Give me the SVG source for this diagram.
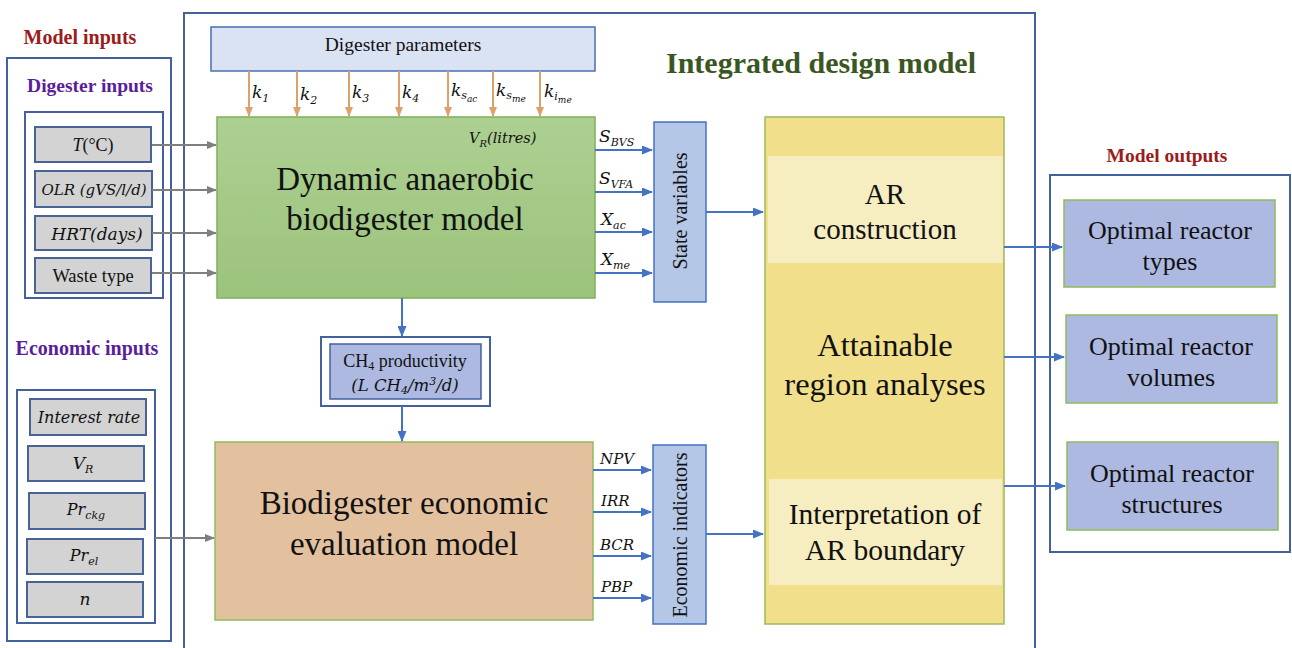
<svg xmlns="http://www.w3.org/2000/svg" width="1292" height="648" viewBox="0 0 1292 648">
<defs>
<marker id="ag" markerWidth="10" markerHeight="8" refX="9" refY="4" orient="auto" markerUnits="userSpaceOnUse"><path d="M0,0 L10,4 L0,8 z" fill="#7f7f7f"/></marker>
<marker id="ao" markerWidth="10" markerHeight="8" refX="9" refY="4" orient="auto" markerUnits="userSpaceOnUse"><path d="M0,0 L10,4 L0,8 z" fill="#e0a06a"/></marker>
<marker id="ab" markerWidth="11" markerHeight="9" refX="10" refY="4.5" orient="auto" markerUnits="userSpaceOnUse"><path d="M0,0 L11,4.5 L0,9 z" fill="#4472c4"/></marker>
<linearGradient id="gg" x1="0" y1="0" x2="0" y2="1"><stop offset="0" stop-color="#acd092"/><stop offset="1" stop-color="#9cc37c"/></linearGradient>
<style>
.frame{fill:#fff;stroke:#44619e;stroke-width:2}
.item{fill:#d3d3d3;stroke:#4a6396;stroke-width:2}
.t{font-family:"Liberation Serif","Times New Roman","DejaVu Serif",serif;fill:#111}
.m{font-family:"DejaVu Serif","Liberation Serif",serif;font-style:italic;fill:#111}
.big{font-family:"Liberation Serif","Times New Roman","DejaVu Serif",serif;fill:#111;text-anchor:middle}
.lab{font-family:"Liberation Serif","Times New Roman","DejaVu Serif",serif;font-weight:bold}
.cg{stroke:#7f7f7f;stroke-width:2;fill:none}
.co{stroke:#e0a06a;stroke-width:2;fill:none}
.cb{stroke:#4472c4;stroke-width:2;fill:none}
.blue{fill:#b4c7e7;stroke:#4472c4;stroke-width:1.5}
.out{fill:#adb9e1;stroke:#8fbc5a;stroke-width:1.5}
</style>
</defs>

<g id="integrated">
<rect x="184" y="13" width="851" height="660" fill="none" stroke="#44619e" stroke-width="2"/>
<text class="lab" x="821" y="73" font-size="30" fill="#3a5623" text-anchor="middle">Integrated design model</text>
</g>

<g id="model-inputs">
<text class="lab" x="80" y="44" font-size="20" fill="#9b1c1c" text-anchor="middle">Model inputs</text>
<rect class="frame" x="7" y="58" width="164" height="583"/>
<text class="lab" x="90" y="92" font-size="19.5" fill="#5a1e9a" text-anchor="middle">Digester inputs</text>
<text class="lab" x="87" y="355" font-size="20" fill="#5a1e9a" text-anchor="middle">Economic inputs</text>
</g>

<g id="digester-inputs">
<rect class="frame" x="25" y="112" width="138" height="186"/>
<rect class="item" x="35" y="127" width="116" height="35"/>
<text class="t" x="93" y="151" font-size="18" text-anchor="middle"><tspan font-style="italic">T</tspan>(°C)</text>
<rect class="item" x="35" y="171" width="117" height="36"/>
<text class="m" x="94" y="195" font-size="15" text-anchor="middle">OLR (gVS/l/d)</text>
<rect class="item" x="35" y="216" width="117" height="34"/>
<text class="m" x="97" y="240" font-size="17" text-anchor="middle">HRT(days)</text>
<rect class="item" x="35" y="258" width="116" height="35"/>
<text class="t" x="93" y="282" font-size="18.5" text-anchor="middle">Waste type</text>
</g>

<g id="economic-inputs">
<rect class="frame" x="17" y="390" width="138" height="233"/>
<rect class="item" x="30" y="399" width="116" height="36"/>
<text class="m" x="89" y="423" font-size="16" text-anchor="middle">Interest rate</text>
<rect class="item" x="28" y="446" width="116" height="35"/>
<text class="m" x="83" y="469" font-size="17" text-anchor="middle">V<tspan font-size="11" dy="4">R</tspan></text>
<rect class="item" x="29" y="493" width="116" height="36"/>
<text class="m" x="86" y="515" font-size="16" text-anchor="middle">Pr<tspan font-size="11" dy="4">ckg</tspan></text>
<rect class="item" x="27" y="539" width="116" height="35"/>
<text class="m" x="84" y="561" font-size="16" text-anchor="middle">Pr<tspan font-size="11" dy="4">el</tspan></text>
<rect class="item" x="27" y="582" width="116" height="35"/>
<text class="m" x="85" y="605" font-size="17" text-anchor="middle">n</text>
</g>

<g id="digester-parameters">
<rect x="211" y="27" width="384" height="44" fill="#dae3f3" stroke="#4a6fb0" stroke-width="1.5"/>
<text class="t" x="403" y="51" font-size="19.5" text-anchor="middle">Digester parameters</text>
</g>

<g id="dynamic-model">
<rect x="217" y="117" width="378" height="181" fill="url(#gg)" stroke="#7fb058" stroke-width="1.5"/>
<text class="m" x="469" y="143" font-size="14.5">V<tspan font-size="10" dy="4">R</tspan><tspan dy="-4">(litres)</tspan></text>
<text class="big" x="405" y="190" font-size="33">Dynamic anaerobic</text>
<text class="big" x="405" y="230" font-size="33">biodigester model</text>
</g>

<g id="ch4">
<rect x="321" y="337" width="169" height="69" fill="#fff" stroke="#44619e" stroke-width="2"/>
<rect x="330" y="344" width="151" height="55" fill="#adb9e1" stroke="#44619e" stroke-width="1.5"/>
<text class="t" x="405" y="367" font-size="18" text-anchor="middle">CH<tspan font-size="12" dy="3">4</tspan><tspan dy="-3"> productivity</tspan></text>
<text class="m" x="405" y="391" font-size="16.5" text-anchor="middle">(L CH<tspan font-size="11" dy="3">4</tspan><tspan dy="-3">/m</tspan><tspan font-size="11" dy="-6">3</tspan><tspan dy="6">/d)</tspan></text>
</g>

<g id="economic-model">
<rect x="215" y="442" width="378" height="178" fill="#e3c19f" stroke="#8fbc5a" stroke-width="1.5"/>
<text class="big" x="404" y="514" font-size="33">Biodigester economic</text>
<text class="big" x="404" y="555" font-size="33">evaluation model</text>
</g>

<g id="state-variables">
<rect class="blue" x="654" y="122" width="52" height="180"/>
<text class="t" x="0" y="0" font-size="20" text-anchor="middle" transform="translate(687,211) rotate(-90)">State variables</text>
</g>

<g id="economic-indicators">
<rect class="blue" x="653" y="445" width="53" height="179"/>
<text class="t" x="0" y="0" font-size="20" text-anchor="middle" transform="translate(687,535) rotate(-90)">Economic indicators</text>
</g>

<g id="attainable-region">
<rect x="765" y="117" width="239" height="507" fill="#f1df8c" stroke="#9bbb59" stroke-width="1.5"/>
<rect x="768" y="156" width="235" height="107" fill="#f6edc0"/>
<rect x="769" y="479" width="233" height="106" fill="#f6edc0"/>
<text class="big" x="885" y="204" font-size="29">AR</text>
<text class="big" x="885" y="239" font-size="29">construction</text>
<text class="big" x="885" y="356" font-size="32.5">Attainable</text>
<text class="big" x="885" y="395" font-size="32.5">region analyses</text>
<text class="big" x="885" y="524" font-size="29.5">Interpretation of</text>
<text class="big" x="885" y="560" font-size="29.5">AR boundary</text>
</g>

<g id="model-outputs">
<text class="lab" x="1167" y="162" font-size="19.5" fill="#9b1c1c" text-anchor="middle">Model outputs</text>
<rect class="frame" x="1050" y="175" width="240" height="377"/>
<rect class="out" x="1064" y="200" width="211" height="87"/>
<text class="big" x="1170" y="239" font-size="26">Optimal reactor</text>
<text class="big" x="1170" y="270" font-size="26">types</text>
<rect class="out" x="1066" y="315" width="211" height="88"/>
<text class="big" x="1171" y="355" font-size="26">Optimal reactor</text>
<text class="big" x="1171" y="386" font-size="26">volumes</text>
<rect class="out" x="1067" y="442" width="211" height="88"/>
<text class="big" x="1172" y="482" font-size="26">Optimal reactor</text>
<text class="big" x="1172" y="513" font-size="26">structures</text>
</g>

<g id="connectors">
<line class="cg" x1="152" y1="145" x2="216" y2="145" marker-end="url(#ag)"/>
<line class="cg" x1="152" y1="190" x2="216" y2="190" marker-end="url(#ag)"/>
<line class="cg" x1="152" y1="233" x2="216" y2="233" marker-end="url(#ag)"/>
<line class="cg" x1="152" y1="273" x2="216" y2="273" marker-end="url(#ag)"/>
<line class="cg" x1="155" y1="538" x2="214" y2="538" marker-end="url(#ag)"/>

<line class="co" x1="249" y1="71" x2="249" y2="116" marker-end="url(#ao)"/>
<line class="co" x1="297" y1="71" x2="297" y2="116" marker-end="url(#ao)"/>
<line class="co" x1="349" y1="71" x2="349" y2="116" marker-end="url(#ao)"/>
<line class="co" x1="399" y1="71" x2="399" y2="116" marker-end="url(#ao)"/>
<line class="co" x1="448" y1="71" x2="448" y2="116" marker-end="url(#ao)"/>
<line class="co" x1="493" y1="71" x2="493" y2="116" marker-end="url(#ao)"/>
<line class="co" x1="540" y1="71" x2="540" y2="116" marker-end="url(#ao)"/>
<text class="m" x="252" y="98" font-size="17">k<tspan font-size="11" dy="4">1</tspan></text>
<text class="m" x="300" y="100" font-size="17">k<tspan font-size="11" dy="4">2</tspan></text>
<text class="m" x="352" y="98" font-size="17">k<tspan font-size="11" dy="4">3</tspan></text>
<text class="m" x="402" y="98" font-size="17">k<tspan font-size="11" dy="4">4</tspan></text>
<text class="m" x="451" y="96" font-size="17">k<tspan font-size="11" dy="3">s</tspan><tspan font-size="9" dy="3">ac</tspan></text>
<text class="m" x="496" y="96" font-size="17">k<tspan font-size="11" dy="3">s</tspan><tspan font-size="9" dy="3">me</tspan></text>
<text class="m" x="544" y="97" font-size="17">k<tspan font-size="11" dy="3">i</tspan><tspan font-size="9" dy="3">me</tspan></text>

<line class="cb" x1="595" y1="150" x2="652" y2="150" marker-end="url(#ab)"/>
<line class="cb" x1="595" y1="192" x2="652" y2="192" marker-end="url(#ab)"/>
<line class="cb" x1="595" y1="232" x2="652" y2="232" marker-end="url(#ab)"/>
<line class="cb" x1="595" y1="273" x2="652" y2="273" marker-end="url(#ab)"/>
<text class="m" x="599" y="142" font-size="17">S<tspan font-size="11" dy="4">BVS</tspan></text>
<text class="m" x="599" y="184" font-size="17">S<tspan font-size="11" dy="4">VFA</tspan></text>
<text class="m" x="601" y="225" font-size="17">X<tspan font-size="11" dy="4">ac</tspan></text>
<text class="m" x="601" y="265" font-size="17">X<tspan font-size="11" dy="4">me</tspan></text>

<line class="cb" x1="593" y1="470" x2="651" y2="470" marker-end="url(#ab)"/>
<line class="cb" x1="593" y1="512" x2="651" y2="512" marker-end="url(#ab)"/>
<line class="cb" x1="593" y1="556" x2="651" y2="556" marker-end="url(#ab)"/>
<line class="cb" x1="593" y1="598" x2="651" y2="598" marker-end="url(#ab)"/>
<text class="m" x="600" y="464" font-size="15">NPV</text>
<text class="m" x="601" y="506" font-size="15">IRR</text>
<text class="m" x="600" y="550" font-size="15">BCR</text>
<text class="m" x="601" y="592" font-size="15">PBP</text>

<line class="cb" x1="706" y1="212" x2="763" y2="212" marker-end="url(#ab)"/>
<line class="cb" x1="706" y1="534" x2="763" y2="534" marker-end="url(#ab)"/>

<line class="cb" x1="402" y1="298" x2="402" y2="336" marker-end="url(#ab)"/>
<line class="cb" x1="402" y1="406" x2="402" y2="441" marker-end="url(#ab)"/>

<line class="cb" x1="1004" y1="247" x2="1062" y2="247" marker-end="url(#ab)"/>
<line class="cb" x1="1004" y1="357" x2="1064" y2="357" marker-end="url(#ab)"/>
<line class="cb" x1="1004" y1="486" x2="1065" y2="486" marker-end="url(#ab)"/>
</g>
</svg>
